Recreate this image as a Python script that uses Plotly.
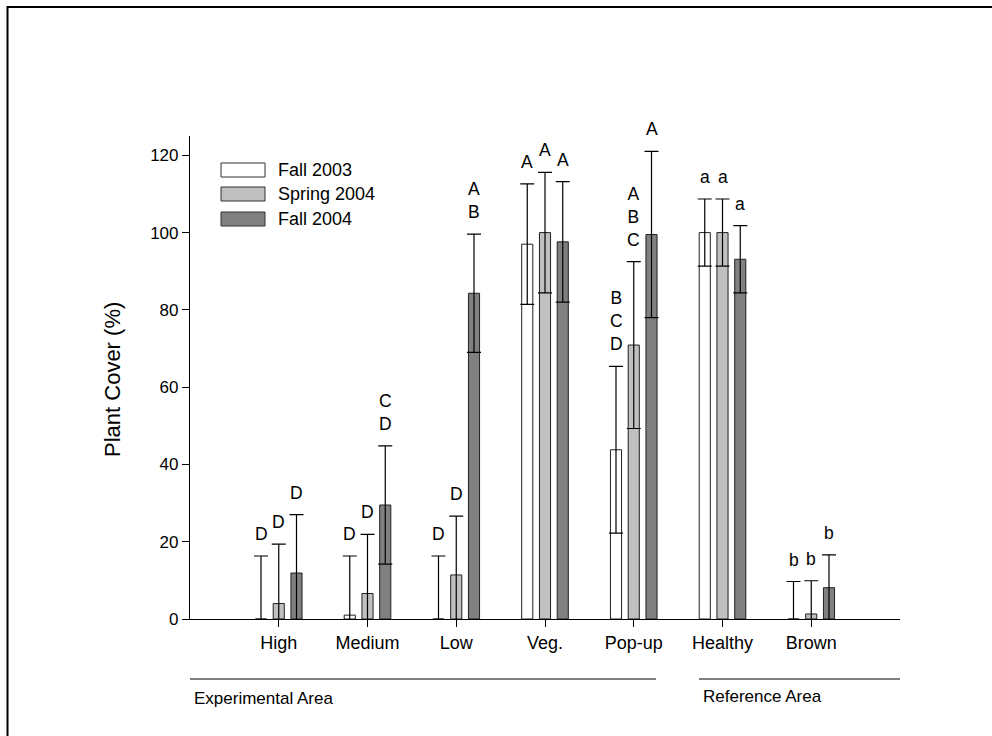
import plotly.graph_objects as go

categories = ["High", "Medium", "Low", "Veg.", "Pop-up", "Healthy", "Brown"]
series_names = ["Fall 2003", "Spring 2004", "Fall 2004"]

fall2003 = [0.0, 1.0, 0.0, 97.0, 43.8, 100.0, 0.0]
fall2003_err = [16.3, 15.3, 16.3, 15.6, 21.6, 8.7, 9.7]
spring2004 = [4.0, 6.6, 11.4, 100.0, 70.9, 100.0, 1.3]
spring2004_err = [15.4, 15.3, 15.2, 15.6, 21.6, 8.7, 8.6]
fall2004 = [11.9, 29.5, 84.3, 97.6, 99.5, 93.1, 8.1]
fall2004_err = [15.1, 15.3, 15.3, 15.6, 21.5, 8.7, 8.5]

fall2003_letters = ["D", "D", "D", "A", "B<br>C<br>D", "a", "b"]
spring2004_letters = ["D", "D", "D", "A", "A<br>B<br>C", "a", "b"]
fall2004_letters = ["D", "C<br>D", "A<br>B", "A", "A", "a", "b"]

colors = ["#ffffff", "#c0c0c0", "#808080"]

values = [fall2003, spring2004, fall2004]
errors = [fall2003_err, spring2004_err, fall2004_err]
letters = [fall2003_letters, spring2004_letters, fall2004_letters]

FONT = "Arial, Liberation Sans, sans-serif"

# plot area in pixels
W, H = 992, 736
L, R, T, B = 190, 900, 136, 619


def px_x(p):
    return (p - L) / (R - L)


def px_y(p):
    return (B - p) / (B - T)


xs = list(range(len(categories)))
group_slot = 0.2
bar_width = 0.125

fig = go.Figure()
for k in range(3):
    off = (k - 1) * group_slot
    fig.add_trace(go.Bar(
        x=[i + off for i in xs],
        y=values[k],
        width=bar_width,
        name=series_names[k],
        marker=dict(color=colors[k], line=dict(color="#202020", width=1)),
        error_y=dict(type="data", array=errors[k], visible=True,
                     color="#000000", thickness=1.2, width=7),
        showlegend=False,
    ))

annotations = []
for k in range(3):
    off = (k - 1) * group_slot
    for i in xs:
        annotations.append(dict(
            x=i + off, y=values[k][i] + errors[k][i], xref="x", yref="y",
            text=letters[k][i], showarrow=False, yanchor="bottom",
            xanchor="center", yshift=10,
            font=dict(family=FONT, size=17.5, color="#000000"),
        ))

shapes = []
# custom legend
legend_rows = [170, 194, 219]
for k in range(3):
    cy = legend_rows[k]
    shapes.append(dict(type="rect", xref="paper", yref="paper",
                       x0=px_x(221), x1=px_x(265), y0=px_y(cy + 7), y1=px_y(cy - 7),
                       fillcolor=colors[k], line=dict(color="#303030", width=1)))
    annotations.append(dict(x=px_x(276), y=px_y(cy), xref="paper", yref="paper",
                            text=series_names[k], showarrow=False,
                            xanchor="left", yanchor="middle",
                            font=dict(family=FONT, size=18, color="#000000")))

# group lines
shapes.append(dict(type="line", xref="paper", yref="paper",
                   x0=px_x(190), x1=px_x(656), y0=px_y(679), y1=px_y(679),
                   line=dict(color="#000000", width=1)))
shapes.append(dict(type="line", xref="paper", yref="paper",
                   x0=px_x(699), x1=px_x(900), y0=px_y(679), y1=px_y(679),
                   line=dict(color="#000000", width=1)))
annotations.append(dict(x=px_x(192), y=px_y(698), xref="paper", yref="paper",
                        text="Experimental Area", showarrow=False,
                        xanchor="left", yanchor="middle",
                        font=dict(family=FONT, size=17, color="#000000")))
annotations.append(dict(x=px_x(701), y=px_y(696), xref="paper", yref="paper",
                        text="Reference Area", showarrow=False,
                        xanchor="left", yanchor="middle",
                        font=dict(family=FONT, size=17, color="#000000")))

# y title
annotations.append(dict(x=px_x(112), y=px_y(380), xref="paper", yref="paper",
                        text="Plant Cover (%)", showarrow=False, textangle=-90,
                        xanchor="center", yanchor="middle",
                        font=dict(family=FONT, size=22, color="#000000")))

# outer frame
shapes.append(dict(type="rect", xref="paper", yref="paper",
                   x0=px_x(7.5), x1=px_x(1010), y0=px_y(760), y1=px_y(7),
                   line=dict(color="#000000", width=2), fillcolor="rgba(0,0,0,0)"))

fig.update_layout(
    width=W, height=H,
    margin=dict(l=L, r=W - R, t=T, b=H - B, pad=0),
    paper_bgcolor="#ffffff", plot_bgcolor="#ffffff",
    barmode="overlay",
    shapes=shapes, annotations=annotations,
    font=dict(family=FONT, size=16, color="#000000"),
    xaxis=dict(range=[-1, 7], tickmode="array", tickvals=xs, ticktext=categories,
               showgrid=False, zeroline=False, showline=True, linecolor="#000000",
               linewidth=1.2, ticks="outside", ticklen=7, tickcolor="#000000",
               tickfont=dict(family=FONT, size=18, color="#000000")),
    yaxis=dict(range=[0, 125], tickvals=[0, 20, 40, 60, 80, 100, 120],
               showgrid=False, zeroline=False, showline=True, linecolor="#000000",
               linewidth=1.2, ticks="outside", ticklen=7, tickcolor="#000000",
               tickfont=dict(family=FONT, size=17, color="#000000")),
)

fig.write_html("out.html", config={"displayModeBar": False},
               post_script="document.body.style.margin='0';document.body.style.overflow='hidden';")
